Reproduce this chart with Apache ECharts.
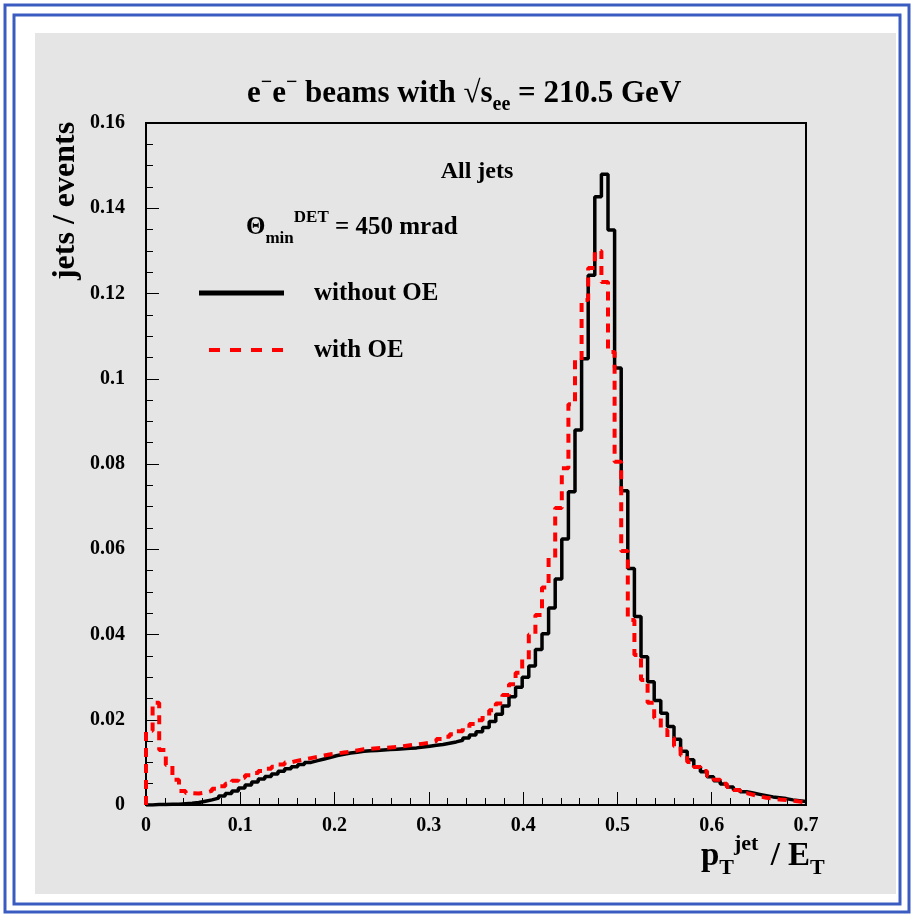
<!DOCTYPE html>
<html>
<head>
<meta charset="utf-8">
<script src="https://cdn.jsdelivr.net/npm/echarts@6/dist/echarts.min.js"></script>
<style>
html,body{margin:0;padding:0;background:#fff;}
#chart{width:914px;height:917px;}
</style>
</head>
<body>
<div id="chart"></div>
<script>
// ---- data ----
const BIN_WIDTH = 0.007;  // 100 bins from 0 to 0.7
const withoutOE = [
  0.0000,0.0001,0.0001,0.0002,0.0002,0.0003,0.0004,0.0006,0.0009,0.0012,
  0.0016,0.0021,0.0027,0.0033,0.0040,0.0047,0.0054,0.0061,0.0067,0.0073,
  0.0079,0.0085,0.0090,0.0095,0.0100,0.0104,0.0108,0.0112,0.0116,0.0119,
  0.0122,0.0124,0.0126,0.0127,0.0128,0.0129,0.0130,0.0131,0.0132,0.0133,
  0.0134,0.0136,0.0138,0.0140,0.0142,0.0145,0.0148,0.0152,0.0157,0.0164,
  0.0172,0.0182,0.0196,0.0213,0.0232,0.0254,0.0276,0.0300,0.0326,0.0365,
  0.0402,0.0462,0.0530,0.0624,0.0735,0.0880,0.1047,0.1243,0.1427,0.1480,
  0.1349,0.1025,0.0737,0.0555,0.0442,0.0348,0.0289,0.0245,0.0215,0.0184,
  0.0154,0.0126,0.0106,0.0090,0.0078,0.0066,0.0057,0.0049,0.0042,0.0036,
  0.0031,0.0028,0.0025,0.0022,0.0019,0.0017,0.0015,0.0012,0.0010,0.0008
];
const withOE = [
  0.0174,0.0240,0.0129,0.0094,0.0059,0.0033,0.0028,0.0027,0.0029,0.0033,
  0.0038,0.0044,0.0050,0.0057,0.0064,0.0070,0.0075,0.0080,0.0085,0.0090,
  0.0095,0.0100,0.0104,0.0107,0.0110,0.0113,0.0116,0.0119,0.0121,0.0123,
  0.0125,0.0128,0.0131,0.0132,0.0133,0.0134,0.0135,0.0136,0.0138,0.0140,
  0.0142,0.0144,0.0146,0.0150,0.0155,0.0160,0.0166,0.0173,0.0181,0.0190,
  0.0199,0.0209,0.0222,0.0238,0.0258,0.0283,0.0310,0.0342,0.0400,0.0446,
  0.0510,0.0580,0.0697,0.0790,0.0940,0.1044,0.1185,0.1260,0.1300,0.1227,
  0.1063,0.0805,0.0596,0.0434,0.0352,0.0293,0.0240,0.0204,0.0176,0.0157,
  0.0138,0.0117,0.0101,0.0089,0.0080,0.0068,0.0059,0.0050,0.0042,0.0035,
  0.0028,0.0024,0.0020,0.0017,0.0015,0.0013,0.0012,0.0010,0.0008,0.0006
];
const xTicks = [0, 0.1, 0.2, 0.3, 0.4, 0.5, 0.6, 0.7];
const xTickLabels = ['0', '0.1', '0.2', '0.3', '0.4', '0.5', '0.6', '0.7'];
const yTicks = [0, 0.02, 0.04, 0.06, 0.08, 0.10, 0.12, 0.14, 0.16];
const yTickLabels = ['0', '0.02', '0.04', '0.06', '0.08', '0.1', '0.12', '0.14', '0.16'];
const seriesNames = ['without OE', 'with OE'];

// ---- build step-histogram point lists (bin left edges) ----
function histPoints(vals) {
  const pts = [[0, 0]];
  vals.forEach((v, i) => pts.push([+(i * BIN_WIDTH).toFixed(4), v]));
  pts.push([+(vals.length * BIN_WIDTH).toFixed(4), vals[vals.length - 1]]);
  return pts;
}
function labelFor(ticks, labels, v) {
  for (let i = 0; i < ticks.length; i++) if (Math.abs(ticks[i] - v) < 1e-9) return labels[i];
  return '';
}

const SERIF = '"Liberation Serif","DejaVu Serif",serif';
const chart = echarts.init(document.getElementById('chart'), null, {renderer: 'canvas'});
const base = {fontFamily: SERIF, fontWeight: 'bold', fill: '#000'};
function richStyles(main, small, mainLH) {
  return {
    m: {fontFamily: SERIF, fontWeight: 'bold', fontSize: main, lineHeight: mainLH, fill: '#000', verticalAlign: 'middle'},
    sp: {fontFamily: SERIF, fontWeight: 'bold', fontSize: small, lineHeight: small + 3, fill: '#000', verticalAlign: 'top'},
    sb: {fontFamily: SERIF, fontWeight: 'bold', fontSize: small, lineHeight: small + 1, fill: '#000', verticalAlign: 'bottom'},
    gap: {fontSize: main, width: 4}
  };
}

const option = {
  animation: false,
  backgroundColor: '#ffffff',
  grid: {left: 146, right: 108, top: 123, bottom: 112, show: true,
         borderColor: '#000', borderWidth: 2, backgroundColor: 'transparent'},
  xAxis: {
    type: 'value', min: 0, max: 0.7, interval: 0.1,
    axisLine: {show: true, lineStyle: {color: '#000', width: 2}},
    axisTick: {show: true, inside: true, length: 13, lineStyle: {color: '#000', width: 1}},
    minorTick: {show: true, splitNumber: 5, length: 7, lineStyle: {color: '#000', width: 1}},
    splitLine: {show: false},
    axisLabel: {margin: 11, color: '#000', fontFamily: SERIF, fontWeight: 'bold', fontSize: 20,
                formatter: v => labelFor(xTicks, xTickLabels, v)}
  },
  yAxis: {
    type: 'value', min: 0, max: 0.16, interval: 0.02,
    axisLine: {show: true, lineStyle: {color: '#000', width: 2}},
    axisTick: {show: true, inside: true, length: 13, lineStyle: {color: '#000', width: 1}},
    minorTick: {show: true, splitNumber: 4, length: 7, lineStyle: {color: '#000', width: 1}},
    splitLine: {show: false},
    axisLabel: {margin: 21, color: '#000', fontFamily: SERIF, fontWeight: 'bold', fontSize: 20,
                formatter: v => labelFor(yTicks, yTickLabels, v)}
  },
  series: [
    {name: seriesNames[0], type: 'line', step: 'end', symbol: 'none', z: 3,
     data: histPoints(withoutOE),
     lineStyle: {color: '#000', width: 3.5}},
    {name: seriesNames[1], type: 'line', step: 'end', symbol: 'none', z: 4,
     data: histPoints(withOE),
     lineStyle: {color: '#ff0000', width: 4, type: [9, 7]}}
  ],
  graphic: [
    // gray panel and blue frames
    {type: 'rect', z: -10, silent: true, shape: {x: 35, y: 33, width: 861, height: 861},
     style: {fill: '#e5e5e5'}},
    {type: 'rect', z: -9, silent: true, shape: {x: 5, y: 5, width: 904, height: 907},
     style: {fill: 'none', stroke: '#3a5cc0', lineWidth: 3}},
    {type: 'rect', z: -9, silent: true, shape: {x: 14, y: 15, width: 886, height: 889},
     style: {fill: 'none', stroke: '#3a5cc0', lineWidth: 3}},
    // title
    {type: 'text', x: 247, y: 73, z: 10,
     style: {text: '{m|e}{sp|−}{m|e}{sp|−}{m| beams with √s}{sb|ee}{m| = 210.5 GeV}',
       rich: richStyles(31, 20, 42)}},
    // y axis name
    {type: 'text', x: 50, y: 201, rotation: Math.PI / 2, z: 10,
     style: Object.assign({}, base, {text: 'jets / events', fontSize: 32, align: 'center', verticalAlign: 'top'})},
    // x axis name
    {type: 'text', x: 701, y: 833, z: 10,
     style: {text: '{m|p}{sb|T}{sp|jet}{gap| }{m| / E}{sb|T}', rich: richStyles(33, 22, 46)}},
    // annotations
    {type: 'text', x: 477, y: 172, z: 10,
     style: Object.assign({}, base, {text: 'All jets', fontSize: 24, align: 'center', verticalAlign: 'middle'})},
    {type: 'text', x: 246, y: 209, z: 10,
     style: {text: '{m|Θ}{sb|min}{sp|DET}{m| = 450 mrad}', rich: richStyles(25, 17, 38)}},
    // legend
    {type: 'line', z: 10, shape: {x1: 199, y1: 293, x2: 284, y2: 293},
     style: {stroke: '#000', lineWidth: 5}},
    {type: 'text', x: 314, y: 294, z: 10,
     style: Object.assign({}, base, {text: seriesNames[0], fontSize: 25, verticalAlign: 'middle'})},
    {type: 'line', z: 10, shape: {x1: 209, y1: 350, x2: 284, y2: 350},
     style: {stroke: '#ff0000', lineWidth: 4, lineDash: [11, 10]}},
    {type: 'text', x: 314, y: 351, z: 10,
     style: Object.assign({}, base, {text: seriesNames[1], fontSize: 25, verticalAlign: 'middle'})}
  ]
};
chart.setOption(option);
</script>
</body>
</html>
